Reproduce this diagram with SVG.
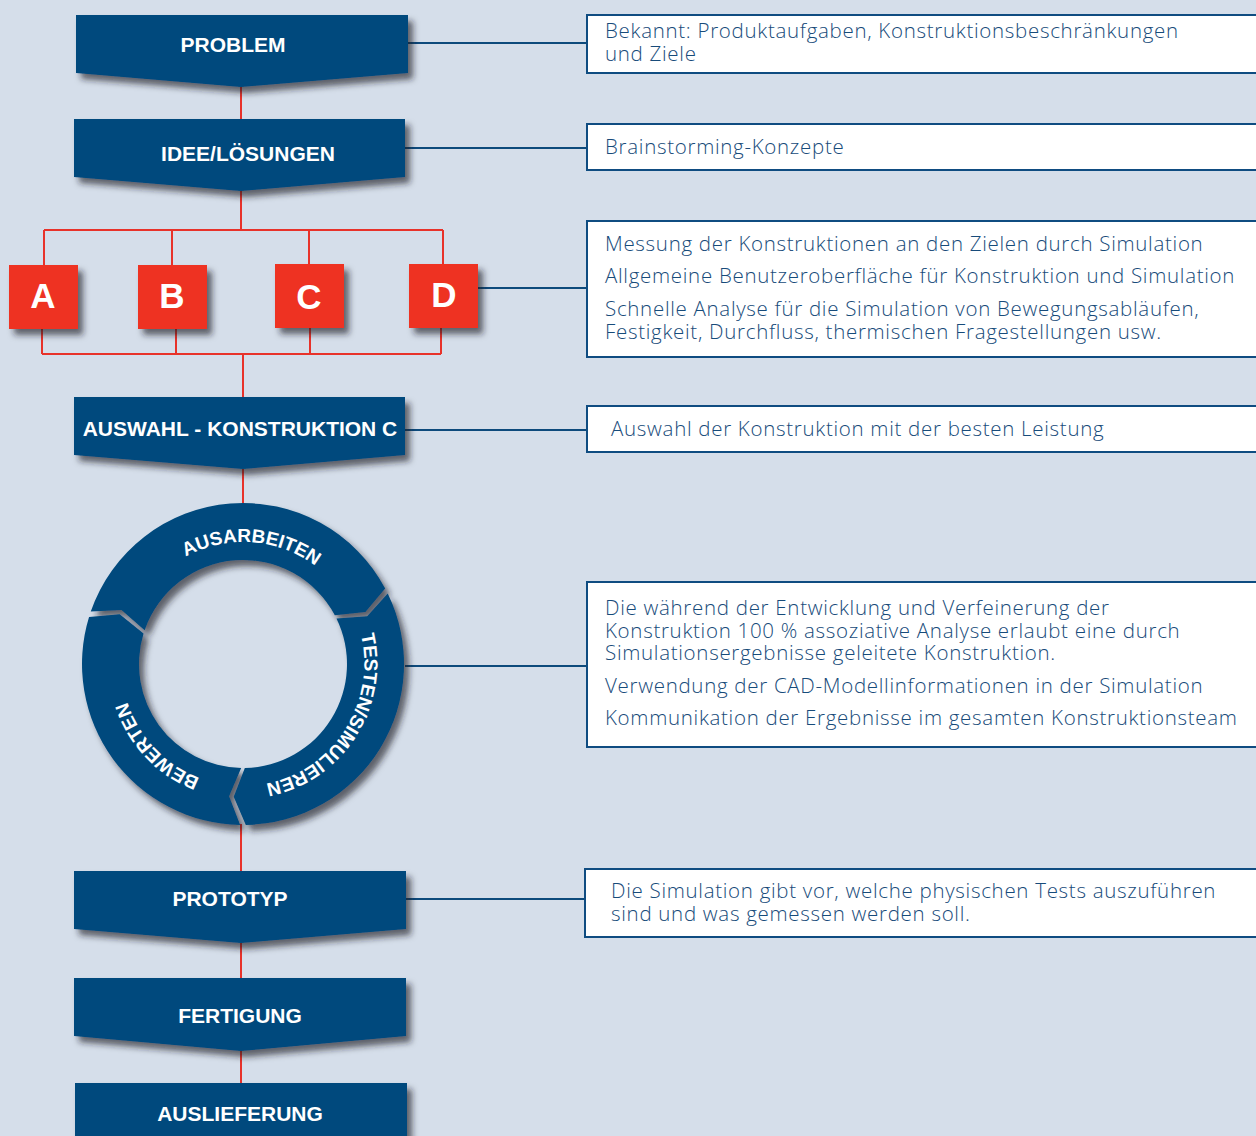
<svg xmlns="http://www.w3.org/2000/svg" width="1256" height="1136" viewBox="0 0 1256 1136">
<defs>
<filter id="sh" x="-10%" y="-20%" width="130%" height="150%">
<feDropShadow dx="5" dy="6" stdDeviation="3" flood-color="#1b1f26" flood-opacity="0.65"/>
</filter>
<path id="ringPath" d="M 129.30 622.62 A 121 121 0 1 1 356.70 705.38 A 121 121 0 1 1 129.30 622.62"/>
</defs>
<style>
.node{fill:#004a7d;}
.lbl{fill:#ffffff;font-family:"Liberation Sans",Arial,sans-serif;font-weight:bold;font-size:21px;text-anchor:middle;}
.red{fill:#ee3124;}
.let{fill:#ffffff;font-family:"Liberation Sans",Arial,sans-serif;font-weight:bold;font-size:35px;text-anchor:middle;}
.rl{stroke:#e8322a;stroke-width:2;fill:none;}
.bl{stroke:#0d4a7c;stroke-width:2;fill:none;}
.box{fill:#ffffff;stroke:#0f4c81;stroke-width:2;}
.tx{fill:#174b7a;font-family:"Open Sans","Liberation Sans",Arial,sans-serif;font-weight:300;font-size:20.5px;letter-spacing:0.7px;}
.rt{fill:#ffffff;font-family:"Liberation Sans",Arial,sans-serif;font-weight:bold;font-size:19px;text-anchor:middle;}
</style>
<rect x="0" y="0" width="1256" height="1136" fill="#d5deea"/>

<g id="connectors">
<path class="rl" d="M241 87 V119"/>
<path class="rl" d="M241 191 V230 M44 230 H443 M44 230 V265 M172 230 V265 M309 230 V264 M443 230 V264"/>
<path class="rl" d="M42 329 V354 M176 329 V354 M310 328 V354 M441 328 V354 M42 354 H441 M243 354 V397"/>
<path class="rl" d="M243 469 V505"/>
<path class="rl" d="M241 824 V871"/>
<path class="rl" d="M241 943 V978"/>
<path class="rl" d="M241 1051 V1083"/>
<path class="bl" d="M408 43 H587"/>
<path class="bl" d="M405 148 H587"/>
<path class="bl" d="M478 288 H587"/>
<path class="bl" d="M405 430 H587"/>
<path class="bl" d="M405 666 H587"/>
<path class="bl" d="M406 899 H585"/>
</g>

<g id="problem">
<polygon class="node" filter="url(#sh)" points="76,15 408,15 408,73 241,87 76,73"/>
<text class="lbl" x="233" y="52">PROBLEM</text>
</g>
<g id="idee">
<polygon class="node" filter="url(#sh)" points="74,119 405,119 405,177 241,191 74,177"/>
<text class="lbl" x="248" y="161">IDEE/LÖSUNGEN</text>
</g>
<g id="varA">
<rect class="red" filter="url(#sh)" x="9" y="265" width="69" height="64"/>
<text class="let" x="43" y="308">A</text>
</g>
<g id="varB">
<rect class="red" filter="url(#sh)" x="138" y="265" width="69" height="64"/>
<text class="let" x="172" y="308">B</text>
</g>
<g id="varC">
<rect class="red" filter="url(#sh)" x="275" y="264" width="69" height="64"/>
<text class="let" x="309" y="309">C</text>
</g>
<g id="varD">
<rect class="red" filter="url(#sh)" x="409" y="264" width="69" height="64"/>
<text class="let" x="444" y="307">D</text>
</g>
<g id="auswahl">
<polygon class="node" filter="url(#sh)" points="74,397 405,397 405,455 243,469 74,455"/>
<text class="lbl" x="240" y="436" font-size="20">AUSWAHL - KONSTRUKTION C</text>
</g>
<g id="zyklus">
<g filter="url(#sh)">
<path class="node" d="M 90.77 611.58 A 161 161 0 0 1 385.15 588.42 L 365.43 612.03 L 334.83 615.18 A 104 104 0 0 0 144.67 630.14 L 121.50 609.90 Z"/>
<path class="node" d="M 387.71 593.42 A 161 161 0 0 1 245.81 824.98 L 233.72 796.68 L 244.82 767.98 A 104 104 0 0 0 336.47 618.41 L 367.17 616.34 Z"/>
<path class="node" d="M 240.19 824.98 A 161 161 0 0 1 89.04 616.93 L 119.69 614.18 L 143.54 633.59 A 104 104 0 0 0 241.18 767.98 L 229.10 796.27 Z"/>
</g>
<text class="rt"><textPath href="#ringPath" startOffset="157.3">AUSARBEITEN</textPath></text>
<text class="rt"><textPath href="#ringPath" startOffset="408.7">TESTEN/SIMULIEREN</textPath></text>
<text class="rt"><textPath href="#ringPath" startOffset="628.8">BEWERTEN</textPath></text>
</g>
<g id="prototyp">
<polygon class="node" filter="url(#sh)" points="74,871 406,871 406,929 241,943 74,929"/>
<text class="lbl" x="230" y="906">PROTOTYP</text>
</g>
<g id="fertigung">
<polygon class="node" filter="url(#sh)" points="74,978 406,978 406,1036 241,1051 74,1036"/>
<text class="lbl" x="240" y="1023">FERTIGUNG</text>
</g>
<g id="auslieferung">
<rect class="node" filter="url(#sh)" x="75" y="1083" width="332" height="70"/>
<text class="lbl" x="240" y="1121">AUSLIEFERUNG</text>
</g>

<g id="info1">
<rect class="box" x="587" y="15" width="700" height="58"/>
<text class="tx" x="605" y="38">Bekannt: Produktaufgaben, Konstruktionsbeschränkungen</text>
<text class="tx" x="605" y="61">und Ziele</text>
</g>
<g id="info2">
<rect class="box" x="587" y="124" width="700" height="46"/>
<text class="tx" x="605" y="154">Brainstorming-Konzepte</text>
</g>
<g id="info3">
<rect class="box" x="587" y="221" width="700" height="136"/>
<text class="tx" x="605" y="251">Messung der Konstruktionen an den Zielen durch Simulation</text>
<text class="tx" x="605" y="283">Allgemeine Benutzeroberfläche für Konstruktion und Simulation</text>
<text class="tx" x="605" y="316">Schnelle Analyse für die Simulation von Bewegungsabläufen,</text>
<text class="tx" x="605" y="339">Festigkeit, Durchfluss, thermischen Fragestellungen usw.</text>
</g>
<g id="info4">
<rect class="box" x="587" y="406" width="700" height="46"/>
<text class="tx" x="611" y="436">Auswahl der Konstruktion mit der besten Leistung</text>
</g>
<g id="info5">
<rect class="box" x="587" y="582" width="700" height="165"/>
<text class="tx" x="605" y="615">Die während der Entwicklung und Verfeinerung der</text>
<text class="tx" x="605" y="638">Konstruktion 100 % assoziative Analyse erlaubt eine durch</text>
<text class="tx" x="605" y="660">Simulationsergebnisse geleitete Konstruktion.</text>
<text class="tx" x="605" y="693">Verwendung der CAD-Modellinformationen in der Simulation</text>
<text class="tx" x="605" y="725">Kommunikation der Ergebnisse im gesamten Konstruktionsteam</text>
</g>
<g id="info6">
<rect class="box" x="585" y="869" width="700" height="68"/>
<text class="tx" x="611" y="898">Die Simulation gibt vor, welche physischen Tests auszuführen</text>
<text class="tx" x="611" y="921">sind und was gemessen werden soll.</text>
</g>
</svg>
